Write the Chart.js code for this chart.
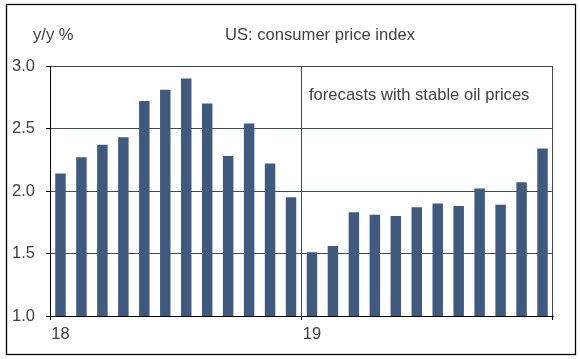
<!DOCTYPE html>
<html>
<head>
<meta charset="utf-8">
<script src="https://cdn.jsdelivr.net/npm/chart.js@4"></script>
<style>
  html, body { margin: 0; padding: 0; background: #ffffff; }
  #wrap { width: 580px; height: 359px; }
</style>
</head>
<body>
<div id="wrap"><canvas id="c" width="580" height="359"></canvas></div>
<script>
// ---- data ----
const months = ['Jan 18','Feb 18','Mar 18','Apr 18','May 18','Jun 18','Jul 18','Aug 18','Sep 18','Oct 18','Nov 18','Dec 18',
                'Jan 19','Feb 19','Mar 19','Apr 19','May 19','Jun 19','Jul 19','Aug 19','Sep 19','Oct 19','Nov 19','Dec 19'];
const cpiYoY = [2.14, 2.27, 2.37, 2.43, 2.72, 2.81, 2.90, 2.70, 2.28, 2.54, 2.22, 1.95,
                1.51, 1.56, 1.83, 1.81, 1.80, 1.87, 1.90, 1.88, 2.02, 1.89, 2.07, 2.34];
const yearTickLabels = ['18', '19'];
const yTicks = [1.0, 1.5, 2.0, 2.5, 3.0];
const titleText = 'US: consumer price index';
const unitText = 'y/y %';
const noteText = 'forecasts with stable oil prices';

const FONT = '"Liberation Sans", Arial, sans-serif';
const TEXT = '#404040';
const GRID = '#3b4a62';
const BAR = '#3f5a7e';

const textPlugin = {
  id: 'texts',
  afterDraw(chart) {
    const c = chart.ctx;
    c.save();
    c.strokeStyle = '#000';
    c.lineWidth = 1.3;
    c.strokeRect(6.5, 4.5, 569, 350);
    c.fillStyle = TEXT;
    c.font = '16.6px ' + FONT;
    c.textBaseline = 'alphabetic';
    c.textAlign = 'left';
    c.fillText(unitText, 33, 40);
    c.textAlign = 'center';
    c.fillText(titleText, 320, 40);
    c.textAlign = 'left';
    c.fillText(noteText, 309, 99.5);
    c.restore();
  }
};

const xLineColor = (ctx) => (ctx.index === 12 || ctx.index === undefined) ? GRID : 'rgba(0,0,0,0)';
const xTickColor = (ctx) => (ctx.index === 0 || ctx.index === 12 || ctx.index === undefined) ? '#000' : 'rgba(0,0,0,0)';

new Chart(document.getElementById('c'), {
  type: 'bar',
  data: {
    labels: months,
    datasets: [{
      data: cpiYoY,
      backgroundColor: BAR,
      borderWidth: 0,
      categoryPercentage: 1.0,
      barPercentage: 0.5
    }]
  },
  options: {
    responsive: false,
    animation: false,
    devicePixelRatio: 1,
    layout: { padding: { left: 0, top: 66, right: 27, bottom: 0 } },
    plugins: { legend: { display: false }, tooltip: { enabled: false }, title: { display: false } },
    scales: {
      x: {
        offset: true,
        afterFit: (s) => { s.height = 43; },
        grid: {
          offset: true,
          color: xLineColor,
          tickColor: xTickColor,
          lineWidth: 1,
          tickLength: 4,
          drawTicks: true
        },
        border: { display: true, color: '#000', width: 1 },
        ticks: {
          autoSkip: false,
          maxRotation: 0,
          minRotation: 0,
          padding: 5,
          color: TEXT,
          font: { family: FONT, size: 16.5 },
          callback: (v, i) => months[i].startsWith('Jan') ? yearTickLabels[Math.floor(i / 12)] : ''
        }
      },
      y: {
        min: 1,
        max: 3,
        afterFit: (s) => { s.width = 50; },
        afterBuildTicks: (s) => { s.ticks = yTicks.map(v => ({ value: v })); },
        grid: {
          color: (ctx) => (ctx.tick && ctx.tick.value === 1) ? 'rgba(0,0,0,0)' : GRID,
          tickColor: '#000',
          lineWidth: 1,
          tickLength: 4
        },
        border: { display: true, color: '#000', width: 1 },
        ticks: {
          padding: 11,
          color: TEXT,
          font: { family: FONT, size: 16.5 },
          callback: (v) => Number(v).toFixed(1)
        }
      }
    }
  },
  plugins: [textPlugin]
});
</script>
</body>
</html>
